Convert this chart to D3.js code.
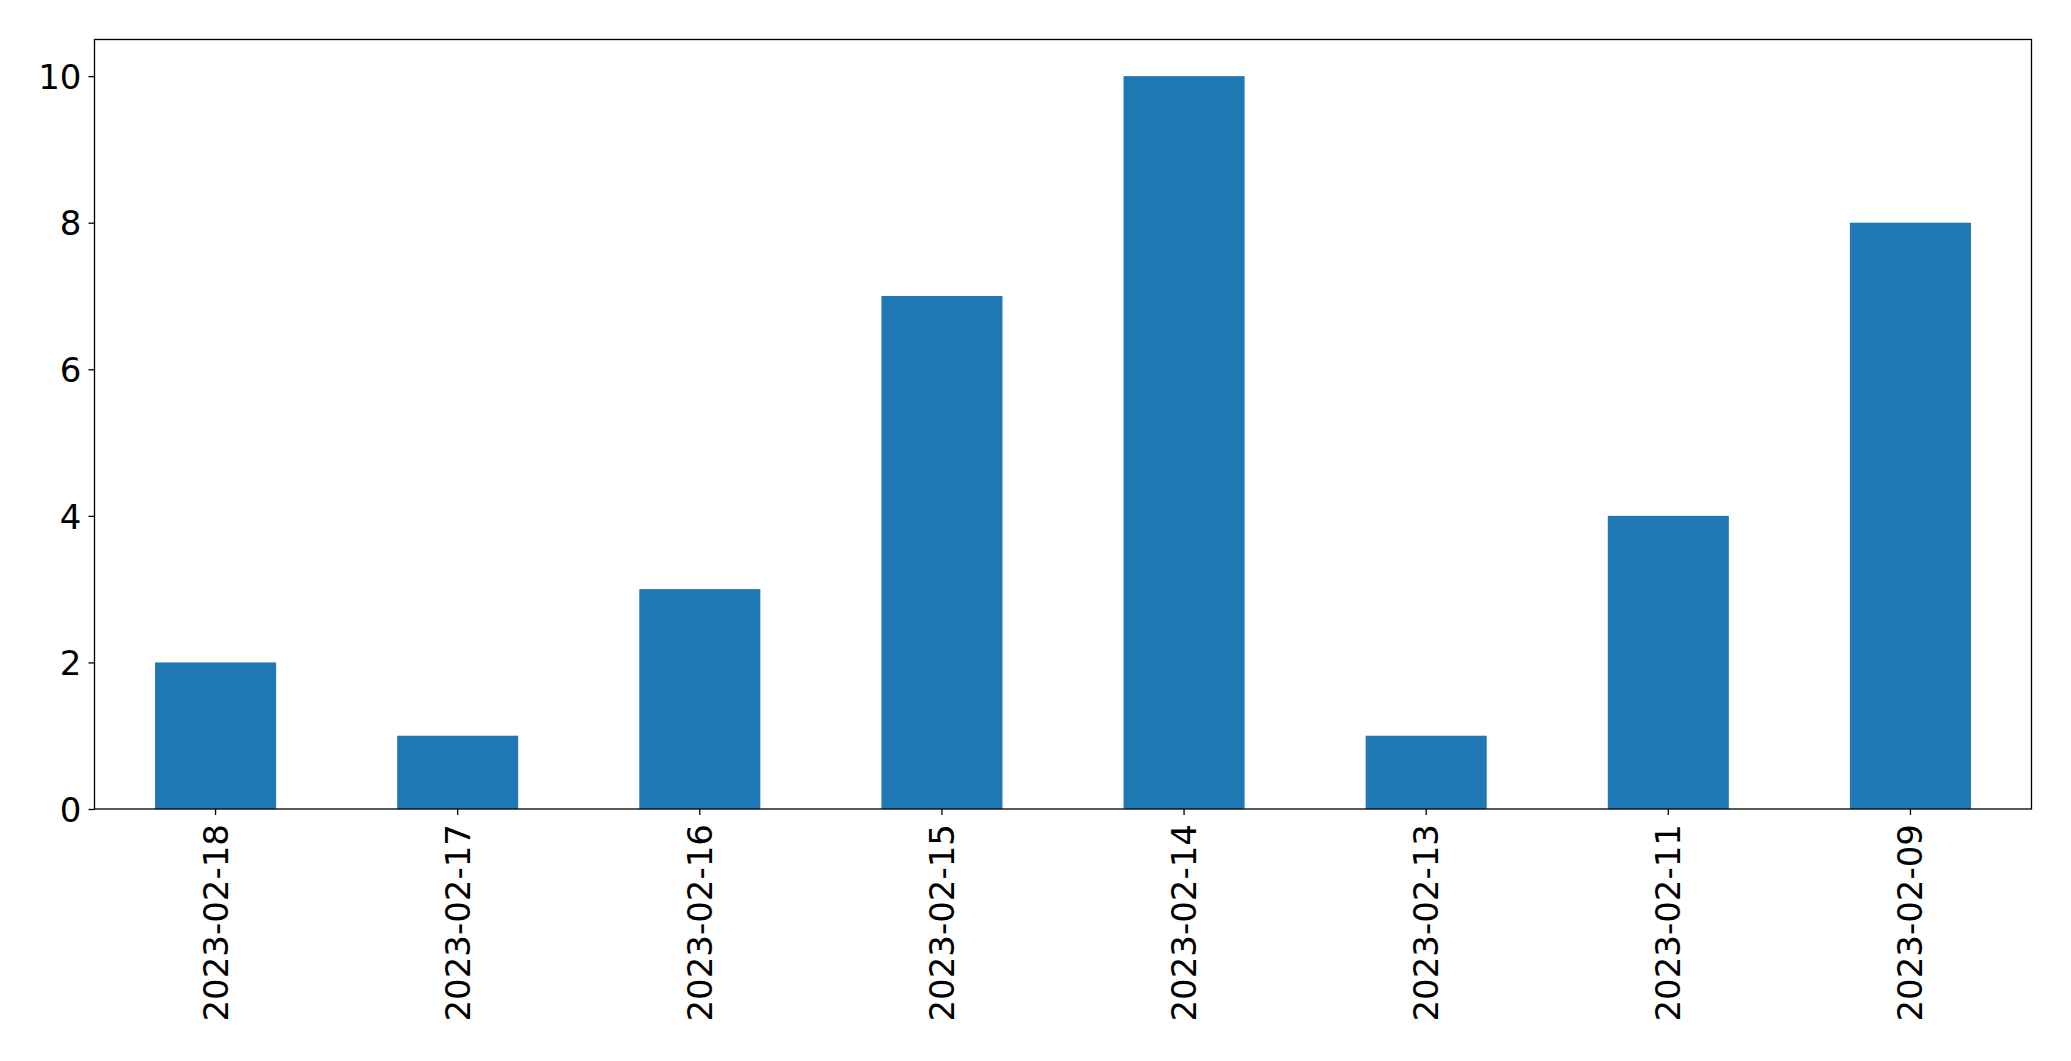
<!DOCTYPE html>
<html>
<head>
<meta charset="utf-8">
<script src="https://cdn.jsdelivr.net/npm/d3@7"></script>
<style>
  body { margin: 0; background: #fff; }
  svg { display: block; }
  .tick text { font-family: "DejaVu Sans", sans-serif; font-size: 34px; fill: #000; }
</style>
</head>
<body>
<svg id="chart" width="2071" height="1061"></svg>
<script>
// values
var dates = ['2023-02-18', '2023-02-17', '2023-02-16', '2023-02-15',
             '2023-02-14', '2023-02-13', '2023-02-11', '2023-02-09'];
var counts = [2, 1, 3, 7, 10, 1, 4, 8];
var yTicks = [0, 2, 4, 6, 8, 10];

var margin = {top: 39.5, right: 39.5, bottom: 252, left: 94.5};
var width = 2071 - margin.left - margin.right,
    height = 1061 - margin.top - margin.bottom;

var svg = d3.select('#chart');
var g = svg.append('g')
    .attr('transform', 'translate(' + margin.left + ',' + margin.top + ')');

var x = d3.scaleBand()
    .domain(dates)
    .range([0, width])
    .paddingInner(0.5)
    .paddingOuter(0.25);

var y = d3.scaleLinear()
    .domain([0, 10.5])
    .range([height, 0]);

g.selectAll('.bar')
    .data(dates)
    .enter().append('rect')
    .attr('class', 'bar')
    .attr('x', function(d) { return x(d); })
    .attr('y', function(d, i) { return y(counts[i]); })
    .attr('width', x.bandwidth())
    .attr('height', function(d, i) { return height - y(counts[i]); })
    .attr('fill', '#1f77b4');

var yAxis = g.append('g')
    .call(d3.axisLeft(y).tickValues(yTicks).tickSize(6).tickPadding(7).tickFormat(d3.format('d')));
yAxis.select('.domain').remove();
yAxis.selectAll('.tick line').attr('stroke', '#000').attr('stroke-width', 1.3);
yAxis.selectAll('.tick text').attr('dy', '0.36em');

var xAxis = g.append('g')
    .attr('transform', 'translate(0,' + height + ')')
    .call(d3.axisBottom(x).tickSize(6).tickPadding(0));
xAxis.select('.domain').remove();
xAxis.selectAll('.tick line').attr('stroke', '#000').attr('stroke-width', 1.3);
xAxis.selectAll('.tick text')
    .attr('text-anchor', 'end')
    .attr('dy', null)
    .attr('dominant-baseline', 'central')
    .attr('transform', 'translate(0,15) rotate(-90)')
    .attr('x', 0)
    .attr('y', 0);

// frame around the plot
g.append('rect')
    .attr('x', 0)
    .attr('y', 0)
    .attr('width', width)
    .attr('height', height)
    .attr('fill', 'none')
    .attr('stroke', '#000')
    .attr('stroke-width', 1.3);
</script>
</body>
</html>
